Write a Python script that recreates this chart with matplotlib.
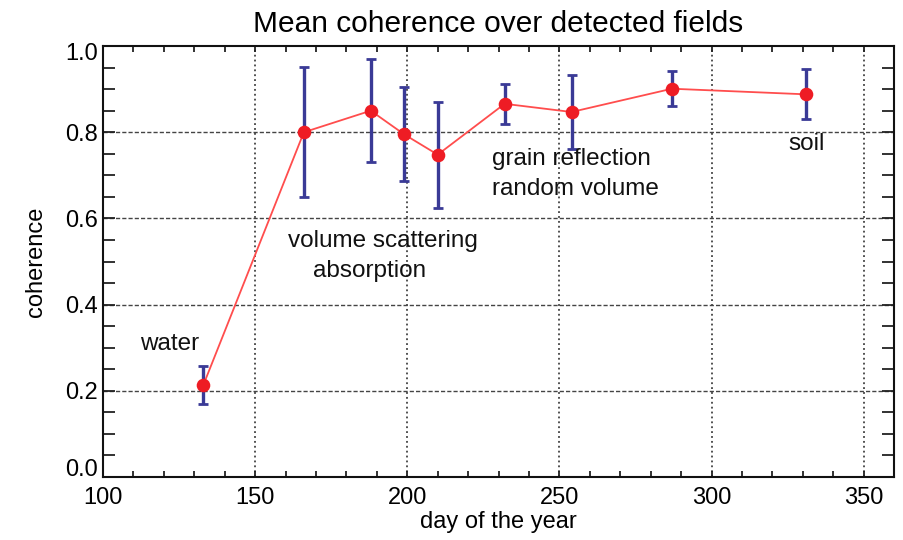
import matplotlib
matplotlib.use("Agg")
import matplotlib.pyplot as plt
import matplotlib.transforms as mtransforms
from matplotlib.ticker import MultipleLocator

# values
day = [133, 166, 188, 199, 210, 232, 254, 287, 331]
coherence = [0.214, 0.800, 0.850, 0.795, 0.748, 0.866, 0.847, 0.901, 0.888]
coh_err = [0.044, 0.151, 0.120, 0.109, 0.123, 0.046, 0.087, 0.041, 0.058]

y_ticks = [0.0, 0.2, 0.4, 0.6, 0.8, 1.0]
y_ticklabels = ['0.0', '0.2', '0.4', '0.6', '0.8', '1.0']

# annotation labels: (text, day, coherence, alignment)
labels = [
    ("water", 122, 0.308, "center"),
    ("volume scattering", 192, 0.548, "center"),
    ("absorption", 187.5, 0.479, "center"),
    ("grain reflection", 227.8, 0.737, "left"),
    ("random volume", 227.8, 0.668, "left"),
    ("soil", 331.3, 0.772, "center"),
]

plt.rcParams['font.family'] = ['Liberation Sans', 'DejaVu Sans']

fig = plt.figure(figsize=(9.04, 5.40), dpi=100)
ax = fig.add_axes([0.114, 0.1167, 0.875, 0.798])

ax.errorbar(day, coherence, yerr=coh_err, fmt='none', ecolor='#3a3a96',
            elinewidth=2.4, capsize=3.5, capthick=2.0, zorder=3)
ax.plot(day, coherence, color='#ff4d4d', lw=1.3, zorder=4)
ax.plot(day, coherence, 'o', color='#ee1c24', ms=9.8, mec='none', zorder=5)

for txt, x, y, ha in labels:
    ax.text(x, y, txt, ha=ha, va='center', fontsize=17.5, color='#111111')

ax.set_xlim(100, 360)
ax.set_ylim(0.0, 1.0)
ax.xaxis.set_major_locator(MultipleLocator(50))
ax.xaxis.set_minor_locator(MultipleLocator(10))
ax.yaxis.set_minor_locator(MultipleLocator(0.05))
ax.set_yticks(y_ticks)
ax.set_yticklabels(y_ticklabels)

ax.tick_params(axis='both', which='both', direction='in', top=True, right=True,
               width=1.3, color='#222222', labelsize=17)
ax.tick_params(axis='x', which='both', length=4.5, pad=7)
ax.tick_params(axis='y', which='both', length=8.5, pad=4)

# end labels sit inside the axis range, like the original
tl = ax.get_yticklabels()
tl[0].set_transform(tl[0].get_transform() +
                    mtransforms.ScaledTranslation(0, 9 / 100, fig.dpi_scale_trans))
tl[-1].set_transform(tl[-1].get_transform() +
                     mtransforms.ScaledTranslation(0, -5 / 100, fig.dpi_scale_trans))

# grid: dotted verticals, dashed horizontals
for xv in [150, 200, 250, 300, 350]:
    ax.axvline(xv, color='#222222', lw=1.1, ls=(0, (1.2, 2.0)), zorder=1)
for yv in [0.2, 0.4, 0.6, 0.8]:
    ax.axhline(yv, color='#444444', lw=1.0, ls=(0, (3, 1.5)), zorder=1)

for s in ax.spines.values():
    s.set_linewidth(1.5)
    s.set_color('#111111')

ax.set_title('Mean coherence over detected fields', fontsize=21.5, pad=10)
ax.set_xlabel('day of the year', fontsize=17, labelpad=2)
ax.set_ylabel('coherence', fontsize=17, labelpad=13)

fig.savefig('out.png', dpi=100)
